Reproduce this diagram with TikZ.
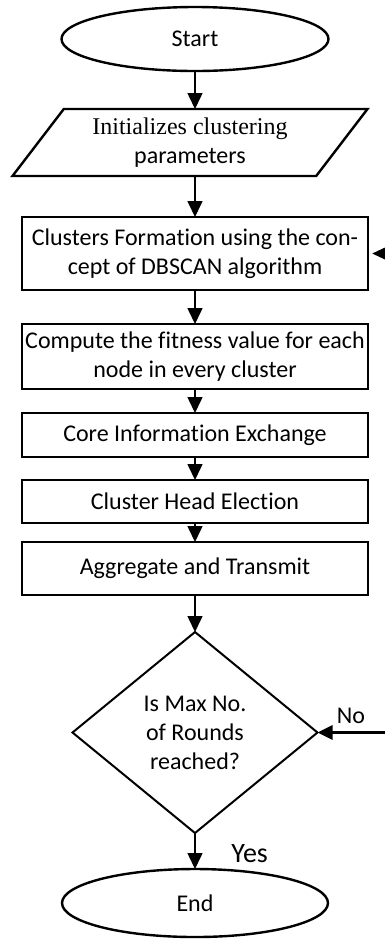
\documentclass[tikz,border=0pt]{standalone}
\usepackage{fontspec}
\setmainfont{Carlito}[Ligatures=NoCommon]
\newfontfamily\timesfont{Liberation Serif}
\usetikzlibrary{shapes.geometric, arrows.meta, positioning, calc}
\tikzset{
  flowterm/.style={
    ellipse, draw, line width=1.2pt, minimum width=133.5pt, minimum height=32pt, inner sep=0pt, outer sep=0pt
  },
  flowio/.style={
    trapezium, draw, line width=1.2pt, trapezium left angle=44, trapezium right angle=136,
    trapezium stretches body, minimum width=177.5pt, minimum height=33.5pt, inner sep=0pt, outer sep=0pt,
    align=center
  },
  flowblock/.style={
    rectangle, draw, line width=1.4pt, minimum width=173pt, inner sep=1pt, outer sep=0pt, align=center
  },
  flowdecision/.style={
    diamond, draw, line width=1pt, aspect=1.22, minimum width=122.5pt, minimum height=100.5pt,
    inner sep=0pt, outer sep=0pt, align=center
  },
  flowarrow/.style={
    line width=0.75pt, -{Triangle[length=8pt, width=7.5pt]}
  },
  looparrow/.style={
    line width=1.5pt, {Triangle[length=7.5pt, width=7pt]}-{Triangle[length=7pt, width=6pt]}
  }
}

\begin{document}
\begin{tikzpicture}[font=\fontsize{12}{14.5}\selectfont]
  \useasboundingbox (0,0) rectangle (192.5pt,-469.5pt);
  \node[flowterm] (start) at (97.5pt,-19.5pt) {Start};
  \node[flowio, below=19pt of start, xshift=-2.5pt] (init) {{\timesfont Initializes clustering}\\parameters};
  \node[flowblock, below=20.5pt of init, xshift=2.5pt, minimum height=36.5pt] (clusterForm) {Clusters Formation using the con-\\cept of DBSCAN algorithm};
  \node[flowblock, below=17pt of clusterForm, minimum height=32.5pt] (fitness) {Compute the fitness value for each\\node in every cluster};
  \node[flowblock, below=12pt of fitness, minimum height=22pt] (coreInfo) {Core Information Exchange};
  \node[flowblock, below=11.5pt of coreInfo, minimum height=21.5pt] (chElect) {Cluster Head Election};
  \node[flowblock, below=9.5pt of chElect, minimum height=26.5pt] (aggTx) {Aggregate and Transmit};
  \node[flowdecision, below=18.5pt of aggTx] (maxRounds) {Is Max No.\\of Rounds\\reached?};
  \node[flowterm, below=18pt of maxRounds, minimum height=34pt, minimum width=133pt] (stop) {End};

  \node[anchor=south west, inner sep=0pt] (noLabel) at ([shift={(9.5pt,4pt)}]maxRounds.east) {No};
  \node[anchor=base west, inner sep=0pt, font=\fontsize{14}{17}\selectfont] (yesLabel) at ([shift={(18pt,-14.5pt)}]maxRounds.south) {Yes};

  \draw[flowarrow] (start) -- (start |- init.north);
  \draw[flowarrow] (start |- init.south) -- (clusterForm);
  \draw[flowarrow] (clusterForm) -- (fitness);
  \draw[flowarrow] (fitness) -- (coreInfo);
  \draw[flowarrow] (coreInfo) -- (chElect);
  \draw[flowarrow] (chElect) -- (aggTx);
  \draw[flowarrow] (aggTx) -- (maxRounds);
  \draw[flowarrow] (maxRounds) -- (stop);
  \draw[looparrow, shorten >=2pt] (maxRounds.east) -- ++(40pt,0) |- (clusterForm.east);
\end{tikzpicture}
\end{document}
